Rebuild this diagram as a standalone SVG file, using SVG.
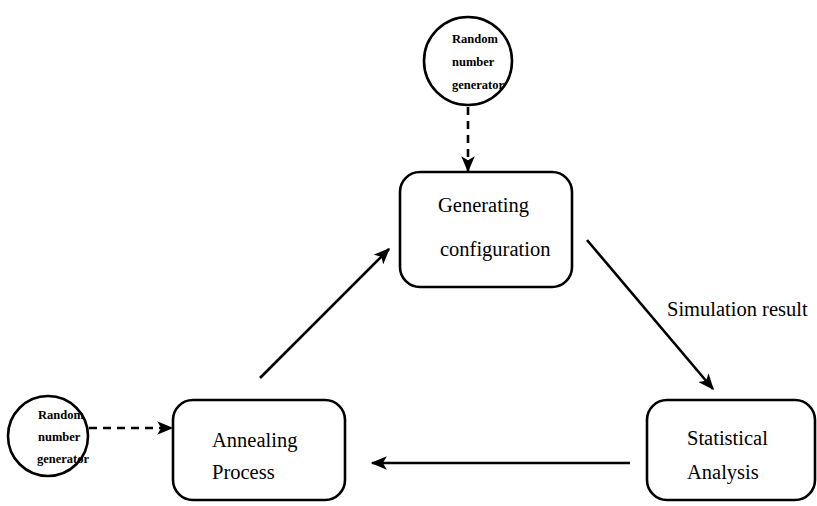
<svg xmlns="http://www.w3.org/2000/svg" width="817" height="506" viewBox="0 0 817 506">
  <style>
    .box { fill: #fff; stroke: #000; stroke-width: 2.6; }
    .circ { fill: #fff; stroke: #000; stroke-width: 2.6; }
    .lbl { font-family: "Liberation Serif", "Times New Roman", serif; font-size: 20.5px; fill: #000; }
    .small { font-family: "Liberation Serif", "Times New Roman", serif; font-size: 12.5px; font-weight: bold; fill: #000; }
    .edge { stroke: #000; stroke-width: 2.6; fill: none; marker-end: url(#head); }
    .dash { stroke-dasharray: 8 6; }
  </style>
  <defs>
    <marker id="head" viewBox="0 0 12 10" refX="11" refY="5" markerWidth="6.5" markerHeight="5.2" orient="auto" markerUnits="strokeWidth">
      <path d="M0,0 L12,5 L0,10 L3,5 Z" fill="#000"/>
    </marker>
  </defs>

  <rect width="817" height="506" fill="#fff"/>

  <g id="connectors">
    <line class="edge dash" x1="468" y1="107" x2="468" y2="171"/>
    <line class="edge dash" x1="89" y1="428" x2="172" y2="428"/>
    <line class="edge" x1="260" y1="378" x2="389" y2="249"/>
    <line class="edge" x1="587" y1="240" x2="713" y2="389"/>
    <line class="edge" x1="630" y1="463" x2="372" y2="463"/>
    <text class="lbl" x="667" y="316">Simulation result</text>
  </g>

  <g id="rng-top">
    <circle class="circ" cx="468" cy="61" r="44"/>
    <text class="small" x="452" y="43">Random</text>
    <text class="small" x="452" y="66">number</text>
    <text class="small" x="452" y="89">generator</text>
  </g>

  <g id="generating">
    <rect class="box" x="400" y="172" width="172" height="115" rx="20"/>
    <text class="lbl" x="438" y="212">Generating</text>
    <text class="lbl" x="440" y="256">configuration</text>
  </g>

  <g id="statistical">
    <rect class="box" x="647" y="400" width="168" height="100" rx="20"/>
    <text class="lbl" x="687" y="445">Statistical</text>
    <text class="lbl" x="687" y="479">Analysis</text>
  </g>

  <g id="annealing">
    <rect class="box" x="173" y="400" width="172" height="100" rx="20"/>
    <text class="lbl" x="212" y="447">Annealing</text>
    <text class="lbl" x="212" y="479">Process</text>
  </g>

  <g id="rng-left">
    <circle class="circ" cx="48" cy="436" r="40"/>
    <text class="small" x="38" y="419" font-size="11.5">Random</text>
    <text class="small" x="38" y="441" font-size="11.5">number</text>
    <text class="small" x="37" y="463" font-size="11.5">generator</text>
  </g>
</svg>
